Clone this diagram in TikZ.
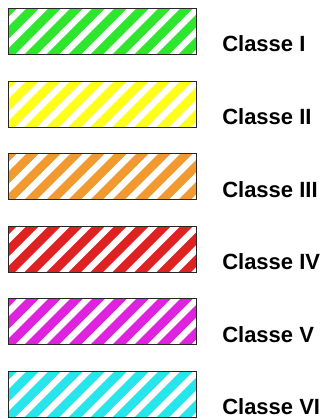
\documentclass[tikz,border=0pt]{standalone}
\usepackage{fontspec}
\setmainfont{Liberation Sans}
\usetikzlibrary{positioning}
\definecolor{cgreen}{HTML}{2EE62E}
\definecolor{cyellow}{HTML}{FFFF1A}
\definecolor{corange}{HTML}{F29A30}
\definecolor{cred}{HTML}{DE2222}
\definecolor{cmagenta}{HTML}{DE22DE}
\definecolor{ccyan}{HTML}{26E6EC}

\begin{document}
\begin{tikzpicture}[x=.75pt,y=-.75pt,classbox/.style={draw=black!85,line width=.8pt,minimum width=141pt,minimum height=34.5pt,inner sep=0pt,anchor=north west},classlabel/.style={anchor=west,inner sep=0pt,font=\fontsize{16.5}{19}\selectfont\bfseries},stripe/.style={line width=6.6pt}]
\path[use as bounding box,fill=white] (0,0) rectangle (325,419);


\foreach \col/\name [count=\i] in {cgreen/I,cyellow/II,corange/III,cred/IV,cmagenta/V,ccyan/VI}{
  \pgfmathsetmacro\top{8+72.6*(\i-1)}
  \node[classbox,path picture={
    \foreach \k in {-4,...,10}
      \draw[stripe,\col] ([xshift=\k*16.5pt-8pt,yshift=-8pt]path picture bounding box.south west) -- ++(70,-70);
  }] (box\i) at (8,\top) {};
  \node[classlabel] (lab\i) at (222,\top+36) {Classe \name};
}

\end{tikzpicture}
\end{document}
